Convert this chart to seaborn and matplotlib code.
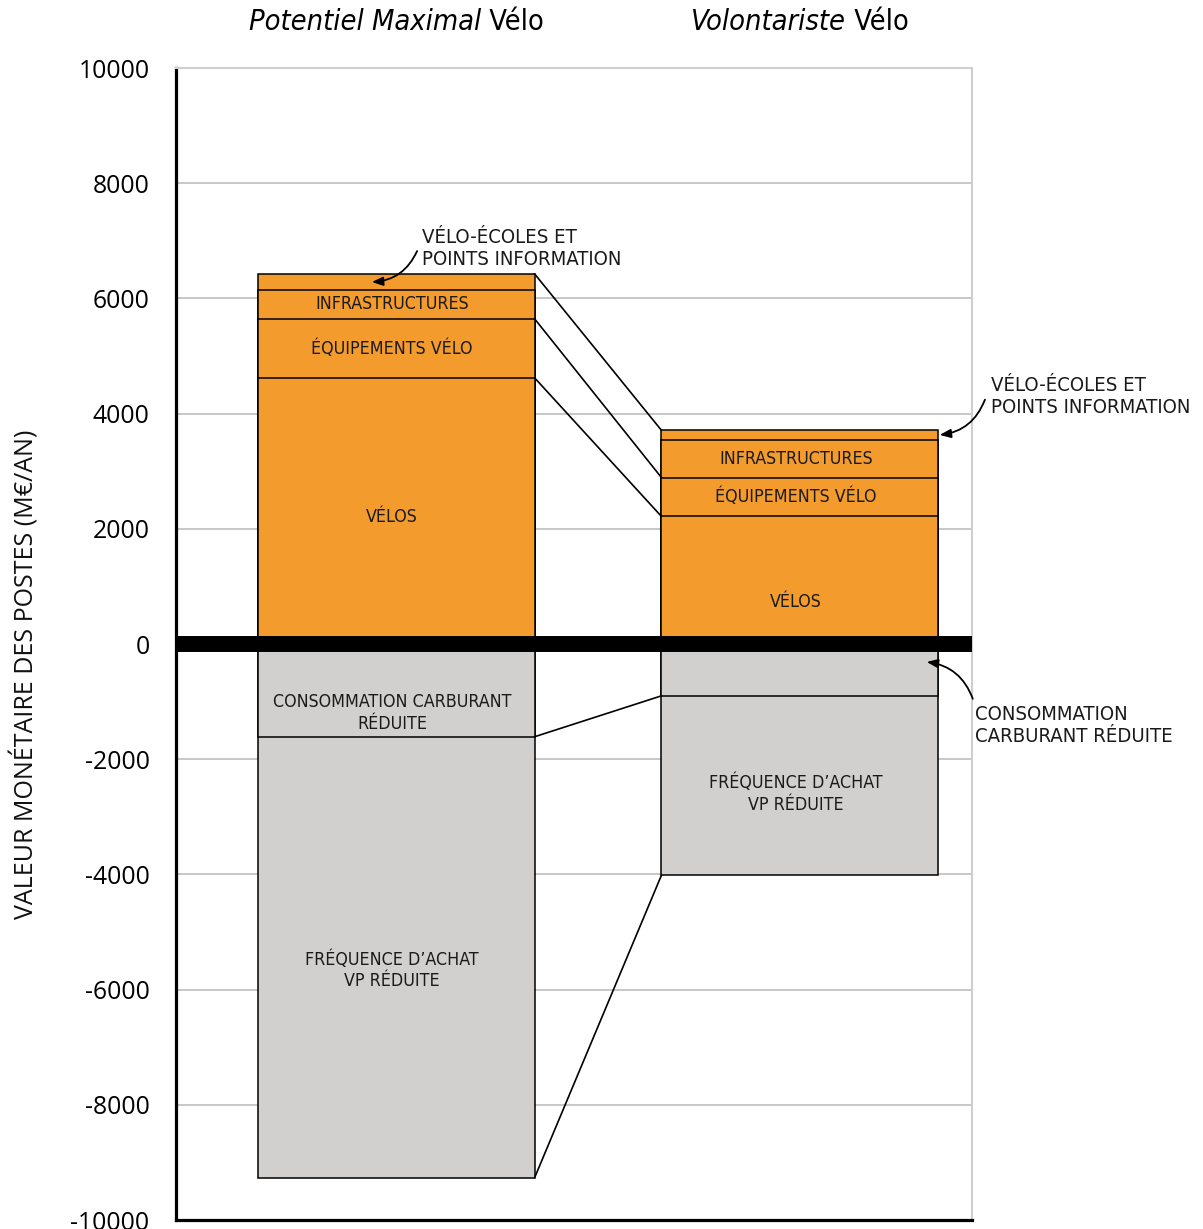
import matplotlib
matplotlib.use("Agg")
import matplotlib.pyplot as plt
import seaborn as sns
import pandas as pd

# Scenario names (drawn as headers) and the cost / saving items in M€/an
scenarios = ["Potentiel Maximal", "Volontariste"]
header_suffix = "Vélo"

# Positive items, stacked from the bottom up
velos = [4620, 2215]
equipements = [1025, 675]
infrastructures = [500, 660]
velo_ecoles = [280, 160]

# Negative items (savings), stacked downward from zero
conso_carburant = [-1610, -900]
frequence_achat = [-7655, -3115]

yticks = list(range(-10000, 10001, 2000))
ylabel = "VALEUR MONÉTAIRE DES POSTES (M€/AN)"

ORANGE = "#F49B2E"
GREY = "#D1D0CE"
BAR_W = 0.686

sns.set_theme(style="white")
plt.rcParams["font.family"] = ["DejaVu Sans"]
plt.rcParams["axes.unicode_minus"] = False

fig = plt.figure(figsize=(12.03, 12.29), dpi=100)
ax = fig.add_axes([176 / 1203, 1 - 1220 / 1229, 796 / 1203, 1152 / 1229])

# cumulative levels of each stack
lvl_velos = velos
lvl_equip = [a + b for a, b in zip(lvl_velos, equipements)]
lvl_infra = [a + b for a, b in zip(lvl_equip, infrastructures)]
lvl_total = [a + b for a, b in zip(lvl_infra, velo_ecoles)]
lvl_conso = conso_carburant
lvl_neg = [a + b for a, b in zip(conso_carburant, frequence_achat)]

# draw tallest cumulative bar first, then overlay the lower ones
layers = [(lvl_total, ORANGE), (lvl_infra, ORANGE), (lvl_equip, ORANGE),
          (lvl_velos, ORANGE), (lvl_neg, GREY), (lvl_conso, GREY)]
for values, col in layers:
    df = pd.DataFrame({"scenario": scenarios, "value": values})
    sns.barplot(data=df, x="scenario", y="value", order=scenarios, color=col,
                saturation=1, width=BAR_W, edgecolor="black", linewidth=1.1,
                errorbar=None, ax=ax, zorder=2)

ax.set_xlim(-0.545, 1.426)
ax.set_ylim(-10000, 10000)
ax.set_yticks(yticks)
ax.set_yticklabels([str(t) for t in yticks], fontfamily="Open Sans")
ax.tick_params(axis="y", length=0, pad=19, labelsize=17.8, colors="black")
ax.set_xticks([])
ax.set_xlabel("")
ax.set_ylabel(ylabel, fontfamily="Open Sans", fontsize=18, color="#111111")
ax.yaxis.set_label_coords(-0.171, 0.4735)

ax.set_axisbelow(True)
ax.yaxis.grid(True, color="#bdbdbd", linewidth=1.2)
ax.xaxis.grid(False)

for side in ("left", "bottom"):
    ax.spines[side].set_color("black")
    ax.spines[side].set_linewidth(2.3)
for side in ("top", "right"):
    ax.spines[side].set_color("#cfcfcf")
    ax.spines[side].set_linewidth(1.5)

# thick zero baseline
ax.axhline(0, color="black", linewidth=11.5, zorder=4)

# connectors between the two stacks
x_r = 0 + BAR_W / 2
x_l = 1 - BAR_W / 2
for lv in (lvl_total, lvl_equip, lvl_velos, lvl_conso, lvl_neg):
    ax.plot([x_r, x_l], [lv[0], lv[1]], color="black", linewidth=1.2, zorder=3)

# segment labels
lab_kw = dict(ha="center", va="center", fontsize=12.8, fontstretch="condensed",
              color="#1a1a1a", zorder=5, linespacing=1.25)
labels = [
    (0, (lvl_infra[0] + lvl_equip[0]) / 2, "INFRASTRUCTURES"),
    (0, (lvl_equip[0] + lvl_velos[0]) / 2, "ÉQUIPEMENTS VÉLO"),
    (0, 2200, "VÉLOS"),
    (0, -1200, "CONSOMMATION CARBURANT\nRÉDUITE"),
    (0, -5660, "FRÉQUENCE D’ACHAT\nVP RÉDUITE"),
    (1, (lvl_infra[1] + lvl_equip[1]) / 2, "INFRASTRUCTURES"),
    (1, (lvl_equip[1] + lvl_velos[1]) / 2, "ÉQUIPEMENTS VÉLO"),
    (1, 730, "VÉLOS"),
    (1, -2600, "FRÉQUENCE D’ACHAT\nVP RÉDUITE"),
]
for x, y, s in labels:
    ax.text(x - 0.01, y, s, **lab_kw)

# callouts for the thin segments
note_kw = dict(ha="left", va="center", fontsize=14.6, fontstretch="condensed",
               color="#1a1a1a", linespacing=1.2, clip_on=False)
arrow_kw = dict(arrowstyle="-|>,head_length=0.55,head_width=0.22", color="black",
                lw=1.3, shrinkA=0, shrinkB=0)

ax.text(0.064, 6874, "VÉLO-ÉCOLES ET\nPOINTS INFORMATION", **note_kw)
ax.annotate("", xy=(-0.06, (lvl_total[0] + lvl_infra[0]) / 2), xytext=(0.052, 6822),
            arrowprops=dict(connectionstyle="arc3,rad=-0.3", **arrow_kw),
            annotation_clip=False)

ax.text(1.473, 4294, "VÉLO-ÉCOLES ET\nPOINTS INFORMATION", **note_kw)
ax.annotate("", xy=(1 + BAR_W / 2 + 0.003, (lvl_total[1] + lvl_infra[1]) / 2),
            xytext=(1.458, 4242),
            arrowprops=dict(connectionstyle="arc3,rad=-0.3", **arrow_kw),
            annotation_clip=False)

ax.text(1.433, -1411, "CONSOMMATION\nCARBURANT RÉDUITE", **note_kw)
ax.annotate("", xy=(1.314, -312), xytext=(1.428, -952),
            arrowprops=dict(connectionstyle="arc3,rad=0.3", **arrow_kw),
            annotation_clip=False)

# column headers: italic scenario name followed by upright "Vélo"
fig.canvas.draw()
renderer = fig.canvas.get_renderer()
head_kw = dict(fontsize=20.8, fontstretch="condensed", color="black", va="center")
y_head = 1 - 22 / 1229
for i, name in enumerate(scenarios):
    t1 = fig.text(0, y_head, name, style="italic", ha="left", **head_kw)
    t2 = fig.text(0, y_head, " " + header_suffix, ha="left", **head_kw)
    w1 = t1.get_window_extent(renderer).width
    w2 = t2.get_window_extent(renderer).width
    cx = ax.transData.transform((i, 0))[0]
    x0 = cx - (w1 + w2) / 2
    W = fig.bbox.width
    t1.set_x(x0 / W)
    t2.set_x((x0 + w1) / W)

fig.savefig("out.png", dpi=100)
